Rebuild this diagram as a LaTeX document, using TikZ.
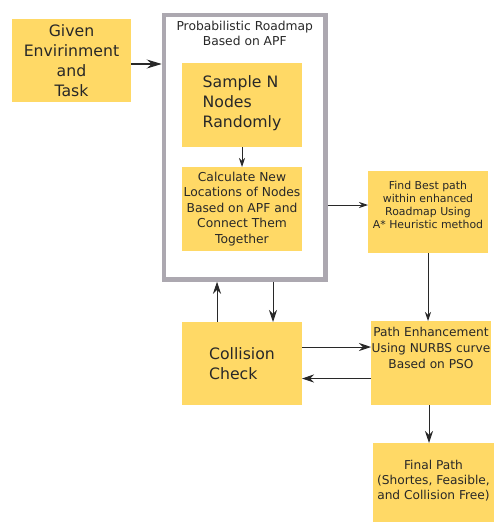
\documentclass[tikz,border=0pt]{standalone}
\usepackage{fontspec}
\setmainfont{DejaVu Sans}
\usetikzlibrary{arrows.meta,positioning}

\definecolor{boxyellow}{RGB}{255,217,102}
\definecolor{framegray}{RGB}{172,168,176}
\definecolor{inkgray}{RGB}{40,40,40}

\begin{document}
\begin{tikzpicture}[x=1pt,y=-1pt,
	box/.style={fill=boxyellow,inner sep=0pt,outer sep=0pt,text=inkgray,minimum width=120pt,minimum height=84pt},
	txt/.style={inner sep=0pt,text=inkgray},
	bigtxt/.style={font=\fontsize{15.7}{20}\selectfont},
	midtxt/.style={font=\fontsize{12.3}{15.5}\selectfont},
	smalltxt/.style={font=\fontsize{10.9}{13}\selectfont},
	flow/.style={draw=inkgray,line width=0.9pt,-{Stealth[length=12pt,width=8pt,inset=4pt]}},
	thinflow/.style={draw=inkgray,line width=0.8pt,-{Stealth[length=9pt,width=6pt,inset=3pt]}},
	bigflow/.style={draw=inkgray,line width=1.2pt,-{Stealth[length=15pt,width=9pt,inset=5pt]}}]

	\useasboundingbox (0,0) rectangle (494,522);

	% roadmap frame
	\node[draw=framegray,line width=4.5pt,minimum width=161.5pt,minimum height=264.5pt] (prm) at (244.75, 147.25) {};
	\node[txt,midtxt,align=center,below=8pt of prm.north] (prmtitle) {Probabilistic Roadmap\\Based on APF};

	% boxes
	\node[box,bigtxt,align=center,minimum width=119pt,minimum height=83pt] (given) at (71.5, 60.5) {Given\\Envirinment\\and\\Task};
	\node[box] (sample) at (242, 105) {};
	\node[txt,bigtxt,align=left,below=12pt of sample.north] {Sample N\\Nodes\\Randomly};
	\node[box,midtxt,align=center] (calc) at (242, 209) {Calculate New\\Locations of Nodes\\Based on APF and\\Connect Them\\Together};
	\node[box,minimum height=82pt] (find) at (428, 212) {};
	\node[txt,smalltxt,align=center,below=10pt of find.north] {Find Best path\\within enhanced\\Roadmap Using\\A* Heuristic method};
	\node[box,bigtxt,align=left,minimum height=83pt] (collision) at (242, 363.5) {Collision\\Check};
	\node[box] (path) at (431, 363) {};
	\node[txt,font=\fontsize{12.2}{16}\selectfont,align=center,below=6.5pt of path.north] {Path Enhancement\\Using NURBS curve\\Based on PSO};
	\node[box,minimum width=121pt,minimum height=79pt] (final) at (433.5, 482.5) {};
	\node[txt,font=\fontsize{12.2}{15}\selectfont,align=center,below=17.5pt of final.north] {Final Path\\(Shortes, Feasible,\\and Collision Free)};

	\coordinate (fw) at ([yshift=7pt]find.west);

	\path ([yshift=-3.5pt]given.east) edge[bigflow] ([yshift=-3.5pt]given.east -| prm.west);
	\path (sample) edge[thinflow] (calc);
	\path (prm.east |- fw) edge[thinflow] (fw);
	\path (find.south) edge[thinflow] (find.south |- path.north);
	\path ([xshift=-25pt]collision.north) edge[flow] ([xshift=-25pt]collision.north |- prm.south);
	\path ([xshift=31pt]collision.north |- prm.south) edge[flow] ([xshift=31pt]collision.north);
	\path ([yshift=16.5pt]collision.east) edge[flow] ([yshift=16.5pt]collision.east -| path.west);
	\path ([yshift=-15.5pt]path.west) edge[flow] ([yshift=-15.5pt]path.west -| collision.east);
	\path ([xshift=-2pt]path.south) edge[flow] ([xshift=-2pt]path.south |- final.north);
\end{tikzpicture}
\end{document}
